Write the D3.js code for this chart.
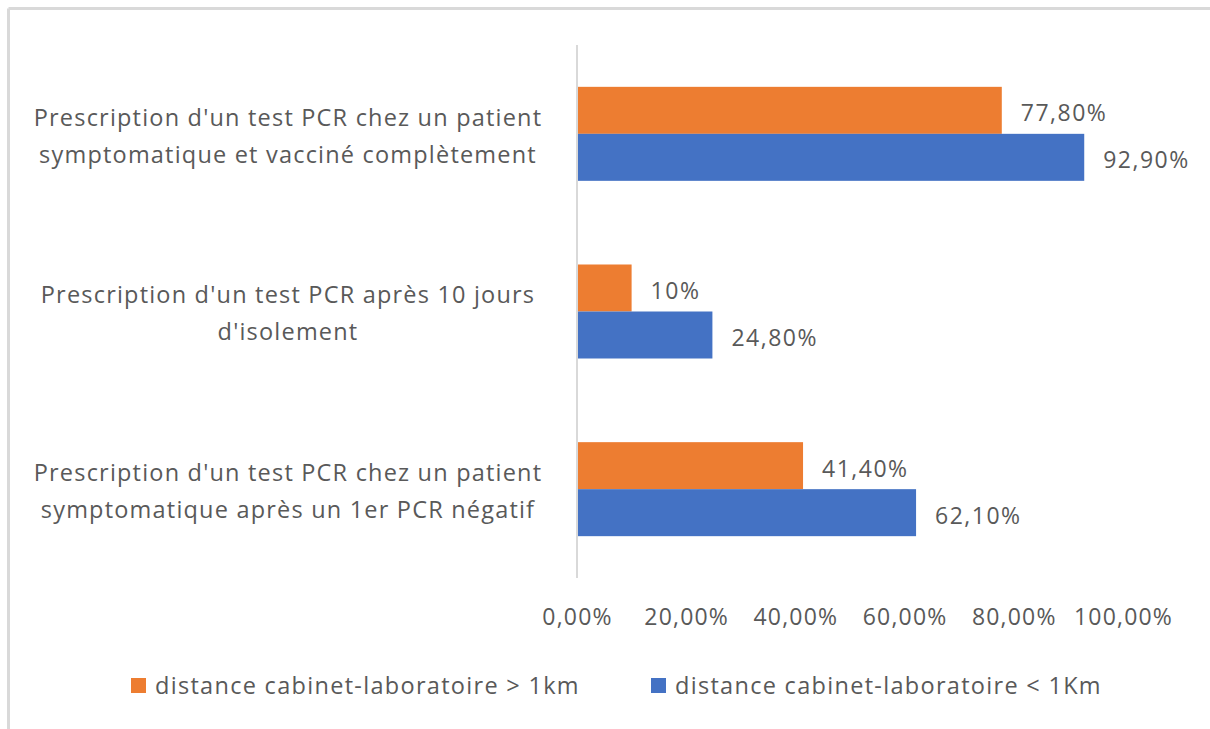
<!DOCTYPE html>
<html>
<head>
<meta charset="utf-8">
<script src="https://cdn.jsdelivr.net/npm/d3@7"></script>
<style>
  body { margin: 0; background: #fff; }
  text { font-family: "Open Sans", sans-serif; fill: #595959; }
</style>
</head>
<body>
<script>
var width = 1210, height = 729;

// data
var categories = [
  ["Prescription d'un test PCR chez un patient", "symptomatique et vacciné complètement"],
  ["Prescription d'un test PCR après 10 jours", "d'isolement"],
  ["Prescription d'un test PCR chez un patient", "symptomatique après un 1er PCR négatif"]
];
var seriesNames = ["distance cabinet-laboratoire > 1km", "distance cabinet-laboratoire < 1Km"];
var seriesColors = ["#ED7D31", "#4472C4"];
var over1km = [0.778, 0.10, 0.414];
var under1km = [0.929, 0.248, 0.621];
var valueLabels = [["77,80%", "10%", "41,40%"], ["92,90%", "24,80%", "62,10%"]];
var ticks = [0, 0.2, 0.4, 0.6, 0.8, 1.0];

var svg = d3.select("body").append("svg")
    .attr("width", width)
    .attr("height", height);

// chart frame (only top/left edges visible)
svg.append("line").attr("x1", 8.5).attr("x2", width).attr("y1", 8.5).attr("y2", 8.5)
    .attr("stroke", "#d9d9d9").attr("stroke-width", 3);
svg.append("line").attr("x1", 8.5).attr("x2", 8.5).attr("y1", 8.5).attr("y2", height)
    .attr("stroke", "#d9d9d9").attr("stroke-width", 3);

var x = d3.scaleLinear().domain([0, 1]).range([577, 1123]);
var y = d3.scaleBand().domain(d3.range(categories.length)).range([45, 578]);
var ySub = d3.scaleBand().domain([0, 1]).range([0, y.bandwidth()]).paddingOuter(0.89);

var series = [over1km, under1km];

series.forEach(function(vals, s) {
    var g = svg.append("g");
    g.selectAll("rect")
        .data(vals)
        .enter()
        .append("rect")
        .attr("x", x(0))
        .attr("y", function(d, i) { return y(i) + ySub(s); })
        .attr("width", function(d) { return x(d) - x(0); })
        .attr("height", ySub.bandwidth())
        .attr("fill", seriesColors[s]);

    g.selectAll("text")
        .data(vals)
        .enter()
        .append("text")
        .attr("x", function(d) { return x(d) + 19; })
        .attr("y", function(d, i) { return y(i) + ySub(s) + ySub.bandwidth() / 2 + 3; })
        .attr("dy", "0.35em")
        .style("font-size", "23px")
        .style("letter-spacing", "1.5px")
        .text(function(d, i) { return valueLabels[s][i]; });
});

// vertical axis line
svg.append("line")
    .attr("x1", x(0)).attr("x2", x(0))
    .attr("y1", 45).attr("y2", 578)
    .attr("stroke", "#d9d9d9").attr("stroke-width", 2);

// category labels
categories.forEach(function(lines, i) {
    var cy = y(i) + y.bandwidth() / 2 + 2;
    svg.append("text")
        .attr("x", 288)
        .attr("y", cy)
        .attr("text-anchor", "middle")
        .style("font-size", "23.5px")
        .style("letter-spacing", "1.2px")
        .selectAll("tspan")
        .data(lines)
        .enter()
        .append("tspan")
        .attr("x", 288)
        .attr("y", function(d, j) { return cy + (j - (lines.length - 1) / 2) * 37; })
        .attr("dy", "0.35em")
        .text(function(d) { return d; });
});

// x axis tick labels
var xAxis = d3.axisBottom(x)
    .tickValues(ticks)
    .tickSize(0)
    .tickPadding(0)
    .tickFormat(function(d) { return d3.format(".2f")(d * 100).replace(".", ",") + "%"; });

var ax = svg.append("g")
    .attr("transform", "translate(0,609)")
    .call(xAxis);
ax.select(".domain").remove();
ax.selectAll("text")
    .style("font-family", "'Open Sans', sans-serif")
    .style("font-size", "23px")
    .style("letter-spacing", "1.2px")
    .attr("fill", "#595959");

// legend
var legendX = [131, 651];
seriesNames.forEach(function(name, s) {
    var lg = svg.append("g").attr("transform", "translate(" + legendX[s] + ",678)");
    lg.append("rect").attr("width", 15).attr("height", 15).attr("fill", seriesColors[s]);
    lg.append("text")
        .attr("x", 24)
        .attr("y", 8)
        .attr("dy", "0.35em")
        .style("font-size", "23.5px")
        .style("letter-spacing", "1.3px")
        .text(name);
});
</script>
</body>
</html>
